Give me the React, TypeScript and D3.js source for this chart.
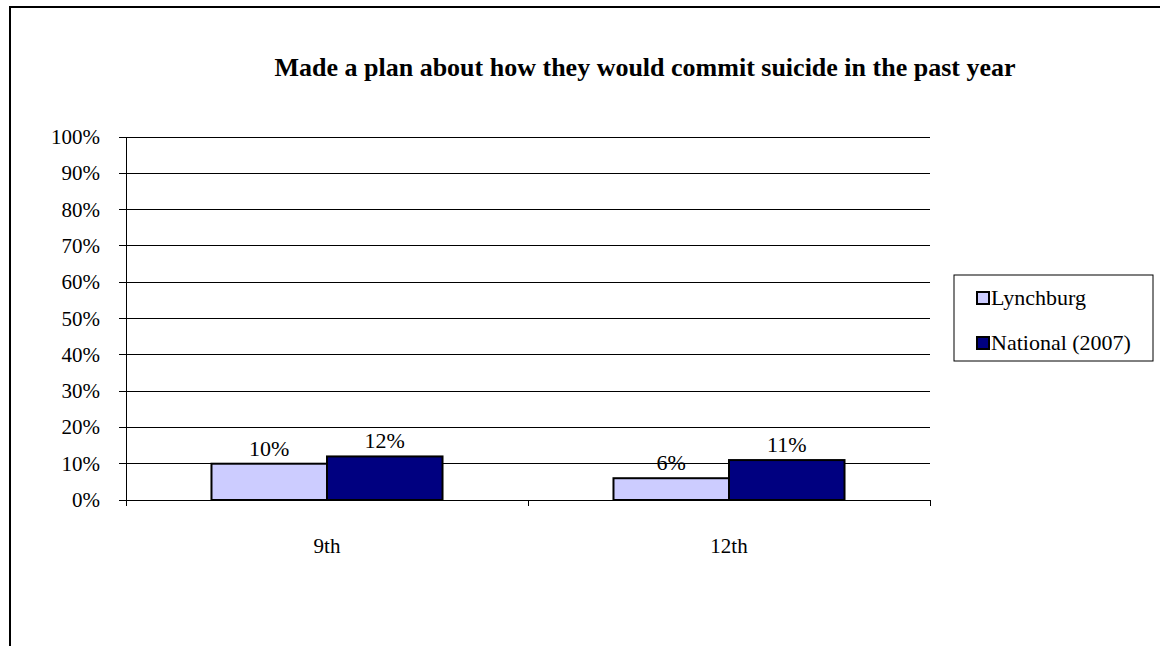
import React from "react";
import * as d3 from "d3";

const categories = ["9th", "12th"];
const seriesNames = ["Lynchburg", "National (2007)"];
const lynchburgValues = [10, 6];
const nationalValues = [12, 11];
const yTicks = [0, 10, 20, 30, 40, 50, 60, 70, 80, 90, 100];
const colors = ["#CCCCFF", "#000080"];
const title = "Made a plan about how they would commit suicide in the past year";

export default function App() {
  const W = 1160, H = 646;
  const left = 126, right = 930, top = 137, bottom = 500;
  const x0 = d3.scaleBand<string>().domain(categories).range([left, right]).paddingInner(0).paddingOuter(0);
  const x1 = d3.scaleBand<string>().domain(seriesNames).range([0, x0.bandwidth()]).paddingOuter(0.74).paddingInner(0);
  const y = d3.scaleLinear().domain([0, 100]).range([bottom, top]);
  const series = [lynchburgValues, nationalValues];
  const font = "Liberation Serif, Times New Roman, serif";
  return (
    <svg width={W} height={H} style={{ position: "absolute", left: 0, top: 0, background: "#fff", fontFamily: font }}>
      <rect x={0} y={0} width={W} height={H} fill="#fff" />
      <rect x={10} y={7} width={W + 20} height={H + 20} fill="none" stroke="#000" strokeWidth={2} />
      <text x={645} y={76} textAnchor="middle" fontSize={26} fontWeight="bold">{title}</text>
      {yTicks.map((t) => (
        <g key={t}>
          <line x1={left - 7} x2={right} y1={y(t)} y2={y(t)} stroke="#000" strokeWidth={1} shapeRendering="crispEdges" />
          <text x={100} y={y(t) + 7} textAnchor="end" fontSize={21}>{t}%</text>
        </g>
      ))}
      <line x1={left} x2={left} y1={top} y2={bottom + 6} stroke="#000" shapeRendering="crispEdges" />
      {[...categories.map((c) => x0(c) as number), right].map((v, i) => (
        <line key={i} x1={v} x2={v} y1={bottom} y2={bottom + 6} stroke="#000" shapeRendering="crispEdges" />
      ))}
      {categories.map((c, ci) => (
        <g key={c}>
          {seriesNames.map((s, si) => {
            const v = series[si][ci];
            const bx = (x0(c) as number) + (x1(s) as number);
            return (
              <g key={s}>
                <rect x={bx} y={y(v)} width={x1.bandwidth()} height={bottom - y(v)} fill={colors[si]} stroke="#000" strokeWidth={2} />
                <text x={bx + x1.bandwidth() / 2} y={y(v) - 8} textAnchor="middle" fontSize={22}>{v}%</text>
              </g>
            );
          })}
          <text x={(x0(c) as number) + x0.bandwidth() / 2} y={553} textAnchor="middle" fontSize={21}>{c}</text>
        </g>
      ))}
      <rect x={954} y={275} width={199} height={86} fill="#fff" stroke="#000" strokeWidth={1} />
      {seriesNames.map((s, i) => (
        <g key={s}>
          <rect x={977} y={305 + i * 45 - 13} width={12} height={12} fill={colors[i]} stroke="#000" strokeWidth={2} />
          <text x={991} y={305 + i * 45} fontSize={22}>{s}</text>
        </g>
      ))}
    </svg>
  );
}
